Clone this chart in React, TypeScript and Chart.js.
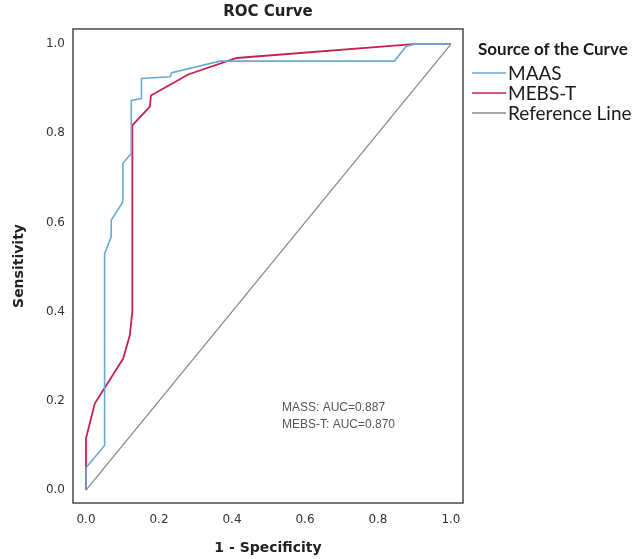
import React, { useEffect, useRef } from 'react';
import { Chart, registerables } from 'chart.js';

Chart.register(...registerables);

// ---- Data ----
const maasFpr = [0, 0, 0.051, 0.051, 0.069, 0.069, 0.101, 0.101, 0.124, 0.124, 0.152, 0.152, 0.23, 0.235, 0.367, 0.845, 0.877, 0.9, 1];
const maasTpr = [0, 0.05, 0.10, 0.53, 0.568, 0.605, 0.646, 0.733, 0.755, 0.874, 0.878, 0.923, 0.927, 0.936, 0.962, 0.962, 0.995, 1.0, 1];

const mebsFpr = [0, 0, 0.024, 0.102, 0.12, 0.127, 0.127, 0.175, 0.178, 0.28, 0.413, 0.897, 1];
const mebsTpr = [0, 0.116, 0.194, 0.295, 0.347, 0.40, 0.818, 0.86, 0.885, 0.932, 0.969, 1.0, 1];

const refFpr = [0, 1];
const refTpr = [0, 1];

const seriesNames = ['MAAS', 'MEBS-T', 'Reference Line'];
const seriesColors = ['#6aa8d8', '#c6204d', '#8a8a8a'];

const xTickValues = [0, 0.2, 0.4, 0.6, 0.8, 1.0];
const xTickLabels = ['0.0', '0.2', '0.4', '0.6', '0.8', '1.0'];
const yTickValues = [0, 0.2, 0.4, 0.6, 0.8, 1.0];
const yTickLabels = ['0.0', '0.2', '0.4', '0.6', '0.8', '1.0'];

const chartTitle = 'ROC Curve';
const xAxisTitle = '1 - Specificity';
const yAxisTitle = 'Sensitivity';
const legendTitle = 'Source of the Curve';
const aucNotes = ['MASS: AUC=0.887', 'MEBS-T: AUC=0.870'];

const toPoints = (xs: number[], ys: number[]) => xs.map((x, i) => ({ x, y: ys[i] }));

const decorPlugin = {
  id: 'decor',
  afterDraw(chart: any) {
    const ctx = chart.ctx as CanvasRenderingContext2D;
    const a = chart.chartArea;
    ctx.save();
    // frame
    ctx.strokeStyle = '#4a4a4a';
    ctx.lineWidth = 1.5;
    ctx.strokeRect(a.left, a.top, a.right - a.left, a.bottom - a.top);

    // title
    ctx.fillStyle = '#222';
    ctx.textAlign = 'center';
    ctx.textBaseline = 'middle';
    ctx.font = 'bold 15px "DejaVu Sans"';
    ctx.fillText(chartTitle, (a.left + a.right) / 2, 12);

    // x axis title
    ctx.font = 'bold 14px "DejaVu Sans"';
    ctx.fillText(xAxisTitle, (a.left + a.right) / 2, 548);

    // y axis title
    ctx.save();
    ctx.translate(19, (a.top + a.bottom) / 2);
    ctx.rotate(-Math.PI / 2);
    ctx.fillText(yAxisTitle, 0, 0);
    ctx.restore();

    // legend
    ctx.textAlign = 'left';
    ctx.font = 'bold 17px Lato';
    ctx.fillStyle = '#1a1a1a';
    ctx.fillText(legendTitle, 478, 50);
    ctx.font = '19px Lato';
    seriesNames.forEach((name, i) => {
      const y = 73 + i * 20;
      ctx.strokeStyle = seriesColors[i];
      ctx.lineWidth = 1.5;
      ctx.beginPath();
      ctx.moveTo(472, y);
      ctx.lineTo(506, y);
      ctx.stroke();
      ctx.fillStyle = '#1a1a1a';
      ctx.fillText(name, 508, y + 1);
    });

    // AUC notes
    ctx.font = '12px "Liberation Sans"';
    ctx.fillStyle = '#555';
    aucNotes.forEach((t, i) => {
      ctx.fillText(t, 282, 408 + i * 17);
    });
    ctx.restore();
  },
};

export default function App() {
  const ref = useRef<HTMLCanvasElement | null>(null);

  useEffect(() => {
    if (!ref.current) return;
    const chart = new Chart(ref.current, {
      type: 'scatter',
      data: {
        datasets: [
          {
            label: seriesNames[2],
            data: toPoints(refFpr, refTpr),
            showLine: true,
            borderColor: seriesColors[2],
            borderWidth: 1.3,
            pointRadius: 0,
            fill: false,
          },
          {
            label: seriesNames[0],
            data: toPoints(maasFpr, maasTpr),
            showLine: true,
            borderColor: seriesColors[0],
            borderWidth: 1.6,
            pointRadius: 0,
            fill: false,
          },
          {
            label: seriesNames[1],
            data: toPoints(mebsFpr, mebsTpr),
            showLine: true,
            borderColor: seriesColors[1],
            borderWidth: 1.8,
            pointRadius: 0,
            fill: false,
          },
        ],
      },
      options: {
        responsive: false,
        animation: false,
        layout: { padding: { left: 0, top: 29, right: 171, bottom: 0 } },
        plugins: {
          legend: { display: false },
          title: { display: false },
          tooltip: { enabled: false },
        },
        scales: {
          x: {
            type: 'linear',
            min: -0.0356,
            max: 1.033,
            grid: { display: false, drawTicks: false },
            border: { display: false },
            afterBuildTicks: (s: any) => {
              s.ticks = xTickValues.map((v) => ({ value: v }));
            },
            afterFit: (s: any) => {
              s.height = 56;
            },
            ticks: {
              padding: 10,
              color: '#333',
              font: { family: '"DejaVu Sans"', size: 12 },
              maxRotation: 0,
              callback: (v: any) => {
                const i = xTickValues.findIndex((t) => Math.abs(t - Number(v)) < 1e-9);
                return i >= 0 ? xTickLabels[i] : '';
              },
            },
          },
          y: {
            type: 'linear',
            min: -0.029,
            max: 1.034,
            grid: { display: false, drawTicks: false },
            border: { display: false },
            afterBuildTicks: (s: any) => {
              s.ticks = yTickValues.map((v) => ({ value: v }));
            },
            afterFit: (s: any) => {
              s.width = 73;
            },
            ticks: {
              padding: 8,
              color: '#333',
              font: { family: '"DejaVu Sans"', size: 12 },
              callback: (v: any) => {
                const i = yTickValues.findIndex((t) => Math.abs(t - Number(v)) < 1e-9);
                return i >= 0 ? yTickLabels[i] : '';
              },
            },
          },
        },
      },
      plugins: [decorPlugin],
    } as any);
    return () => chart.destroy();
  }, []);

  return (
    <div style={{ position: 'fixed', left: 0, top: 0, width: 634, height: 559, background: '#fff' }}>
      <canvas ref={ref} width={634} height={559} style={{ display: 'block', width: 634, height: 559 }} />
    </div>
  );
}
